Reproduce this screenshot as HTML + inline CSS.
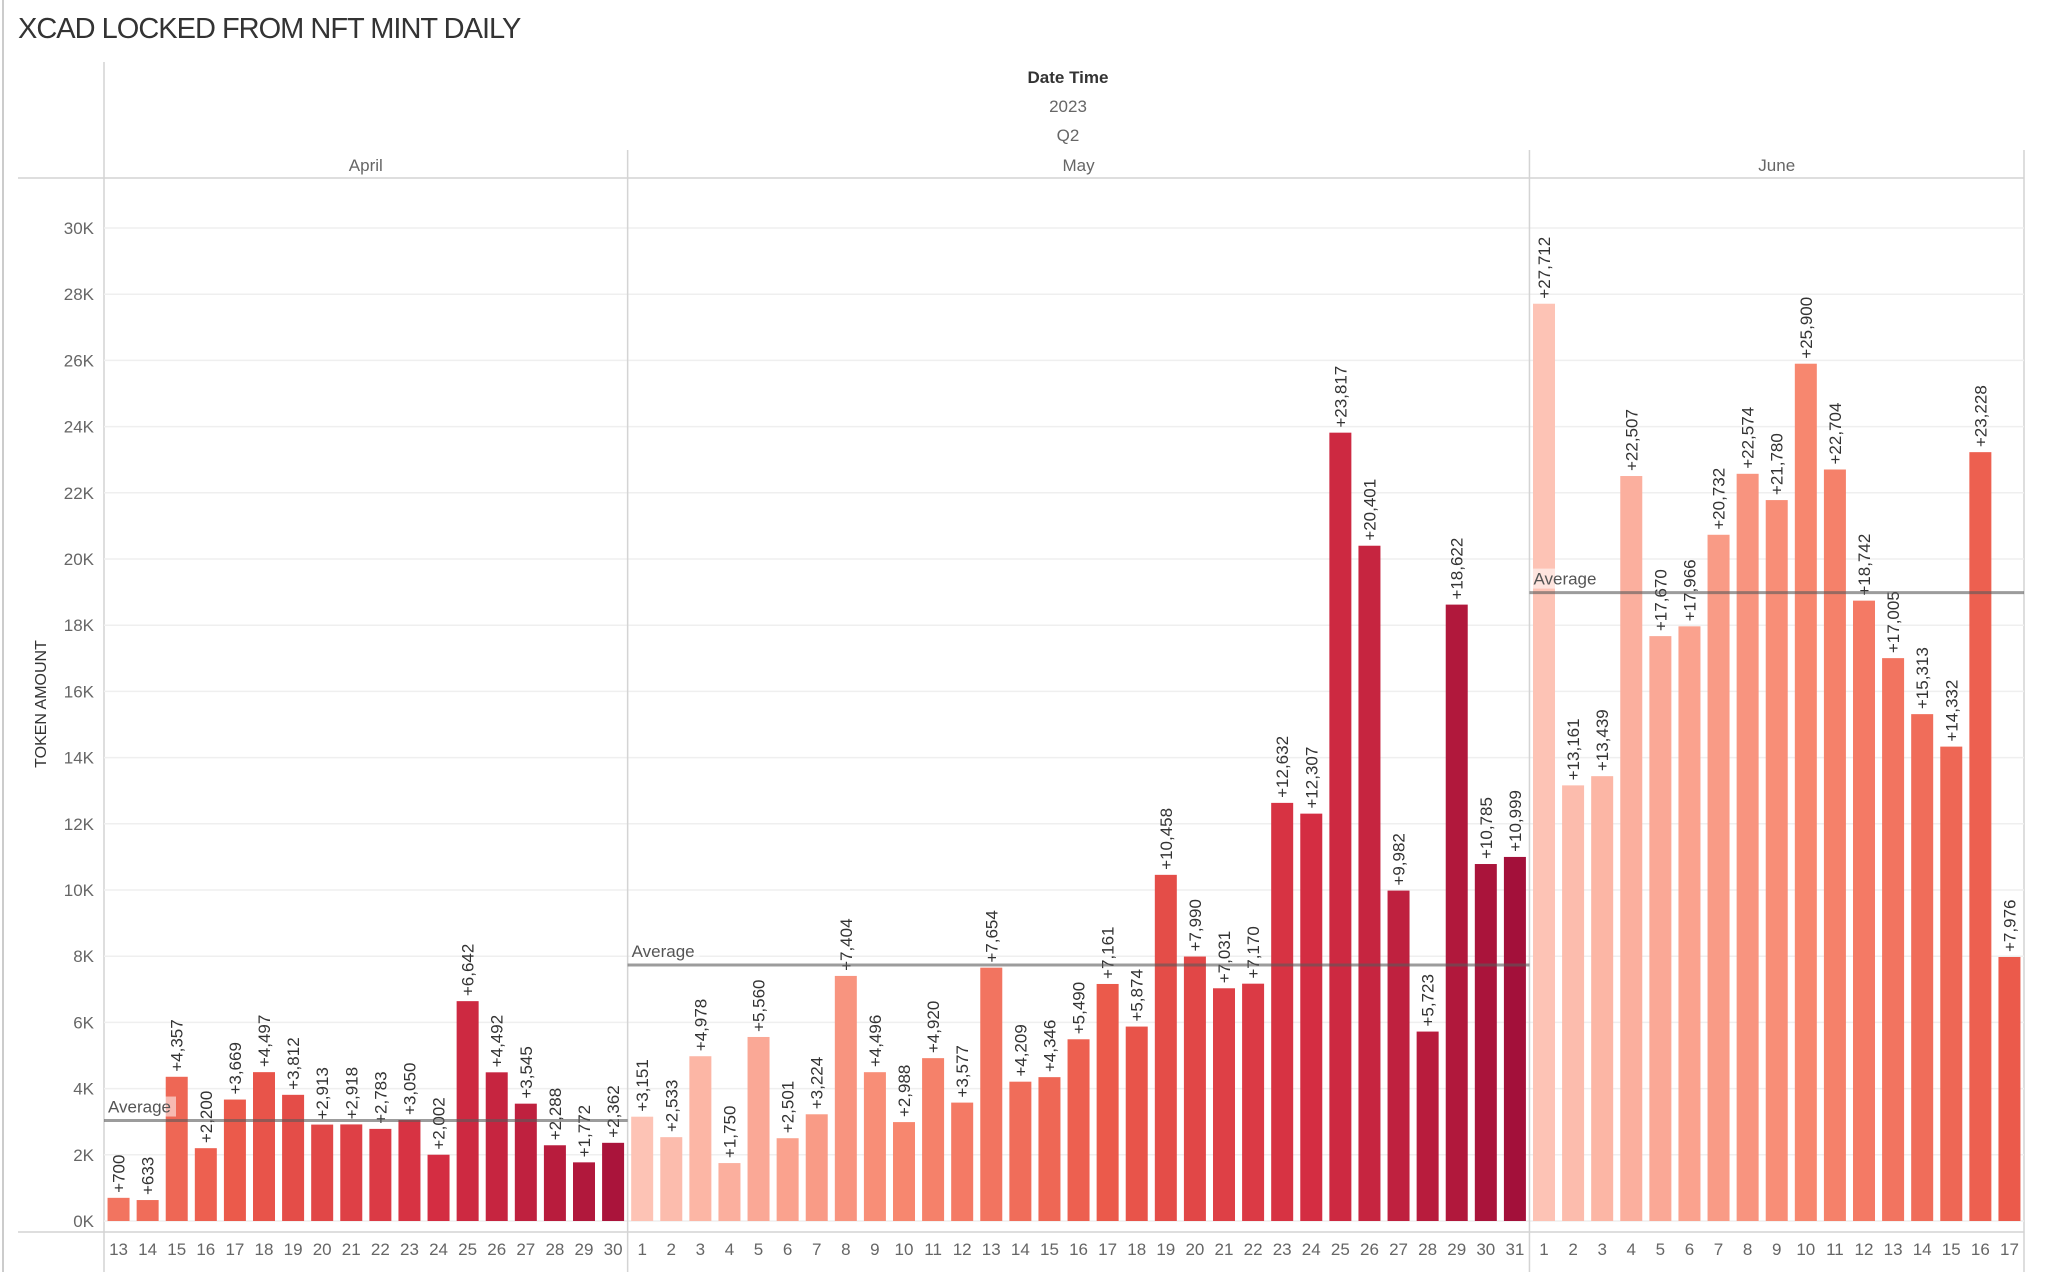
<!DOCTYPE html>
<html><head><meta charset="utf-8">
<style>
html,body{margin:0;padding:0;background:#fff;}
body{width:2048px;height:1272px;overflow:hidden;font-family:"Liberation Sans",sans-serif;}
svg text{font-family:"Liberation Sans",sans-serif;}
</style></head>
<body>
<svg id="chart" width="2048" height="1272" viewBox="0 0 2048 1272" xmlns="http://www.w3.org/2000/svg">
<line x1="3" y1="0" x2="3" y2="1272" stroke="#ccc" stroke-width="2"/>
<text x="18" y="38" font-size="29" fill="#333" style="letter-spacing:-1px">XCAD LOCKED FROM NFT MINT DAILY</text>
<text x="1068" y="83" font-size="17" font-weight="bold" fill="#333" text-anchor="middle">Date Time</text>
<text x="1068" y="112" font-size="17" fill="#666" text-anchor="middle">2023</text>
<text x="1068" y="141" font-size="17" fill="#666" text-anchor="middle">Q2</text>
<line x1="104" y1="62" x2="104" y2="1272" stroke="#d4d4d4" stroke-width="1.5"/>
<line x1="2024" y1="150" x2="2024" y2="1272" stroke="#d4d4d4" stroke-width="1.5"/>
<line x1="18" y1="178" x2="2024" y2="178" stroke="#d4d4d4" stroke-width="1.5"/>
<line x1="18" y1="1232" x2="2024" y2="1232" stroke="#d4d4d4" stroke-width="1.5"/>
<text transform="translate(46,704) rotate(-90)" font-size="16" fill="#333" text-anchor="middle">TOKEN AMOUNT</text>
<g id="grid"></g><g id="bars"></g><g id="labels"></g><g id="avg"></g><g id="xt"></g>
</svg>
<script>
const months = ["April","May","June"];
const aprilDays = [13,14,15,16,17,18,19,20,21,22,23,24,25,26,27,28,29,30];
const aprilValues = [700,633,4357,2200,3669,4497,3812,2913,2918,2783,3050,2002,6642,4492,3545,2288,1772,2362];
const mayDays = [1,2,3,4,5,6,7,8,9,10,11,12,13,14,15,16,17,18,19,20,21,22,23,24,25,26,27,28,29,30,31];
const mayValues = [3151,2533,4978,1750,5560,2501,3224,7404,4496,2988,4920,3577,7654,4209,4346,5490,7161,5874,10458,7990,7031,7170,12632,12307,23817,20401,9982,5723,18622,10785,10999];
const juneDays = [1,2,3,4,5,6,7,8,9,10,11,12,13,14,15,16,17];
const juneValues = [27712,13161,13439,22507,17670,17966,20732,22574,21780,25900,22704,18742,17005,15313,14332,23228,7976];
const yTicks = [0,2000,4000,6000,8000,10000,12000,14000,16000,18000,20000,22000,24000,26000,28000,30000];

const NS="http://www.w3.org/2000/svg";
const X0=104, X1=2024, Y0=1221, Y30=228;
const total = aprilDays.length+mayDays.length+juneDays.length;
const step=(X1-X0)/total;
function y(v){return Y0-(v/30000)*(Y0-Y30);}
function xi(i){return X0+i*step;}
function mk(tag,attrs,parent){const e=document.createElementNS(NS,tag);for(const k in attrs)e.setAttribute(k,attrs[k]);parent.appendChild(e);return e;}
const stops=[[1,[253,195,181]],[10,[247,135,111]],[17,[235,90,75]],[24,[212,45,66]],[31,[163,16,58]]];
function col(d){for(let i=0;i<stops.length-1;i++){const a=stops[i],b=stops[i+1];if(d<=b[0]){const t=(d-a[0])/(b[0]-a[0]);return "rgb("+a[1].map((c,j)=>Math.round(c+(b[1][j]-c)*t)).join(",")+")";}}return "rgb(163,16,58)";}
const grid=document.getElementById("grid"),bars=document.getElementById("bars"),labels=document.getElementById("labels"),avg=document.getElementById("avg"),xt=document.getElementById("xt");
yTicks.forEach(t=>{
  const l=mk("line",{x1:X0,x2:X1,y1:y(t),y2:y(t),stroke:"#efefef","stroke-width":1.5},grid);
  
  
  const tx=mk("text",{x:94,y:y(t)+6,"font-size":17,fill:"#666","text-anchor":"end"},grid);
  tx.textContent=(t/1000)+"K";
  
  
});
const panels=[[aprilDays,aprilValues],[mayDays,mayValues],[juneDays,juneValues]];
let idx=0;
panels.forEach((p,m)=>{
  const [days,vals]=p;
  const start=idx;
  const px0=xi(start), px1=xi(start+days.length);
  if(m>0){const dv=mk("line",{x1:px0,x2:px0,y1:150,y2:1272,stroke:"#d4d4d4","stroke-width":1.5},grid);
    
    }
  const mt=mk("text",{x:(px0+px1)/2,y:171,"font-size":17,fill:"#666","text-anchor":"middle"},grid);
  mt.textContent=months[m];
  
  
  days.forEach((d,i)=>{
    const cx=xi(idx)+step/2, v=vals[i];
    const r=mk("rect",{x:cx-11,y:y(v),width:22,height:Y0-y(v),fill:col(d)},bars);
    
    
    const lt=mk("text",{transform:"translate("+(cx+6)+","+(y(v)-5)+") rotate(-90)","font-size":17,fill:"#333"},labels);
    lt.textContent="+"+v.toLocaleString("en-US");
    
    
    const dt=mk("text",{x:cx,y:1255,"font-size":17,fill:"#666","text-anchor":"middle"},xt);
    dt.textContent=d;
    
    
    idx++;
  });
  const a=vals.reduce((s,v)=>s+v,0)/vals.length;
  const al=mk("line",{x1:px0,x2:px1,y1:y(a),y2:y(a),stroke:"rgba(90,90,90,0.6)","stroke-width":3},avg);
  
  
  const bg=mk("rect",{x:px0+2,y:y(a)-24,width:70,height:20,fill:"rgba(255,255,255,0.55)"},avg);
  
  
  const at=mk("text",{x:px0+4,y:y(a)-8,"font-size":17,fill:"#555"},avg);
  at.textContent="Average";
  
  
});
</script>
</body></html>
